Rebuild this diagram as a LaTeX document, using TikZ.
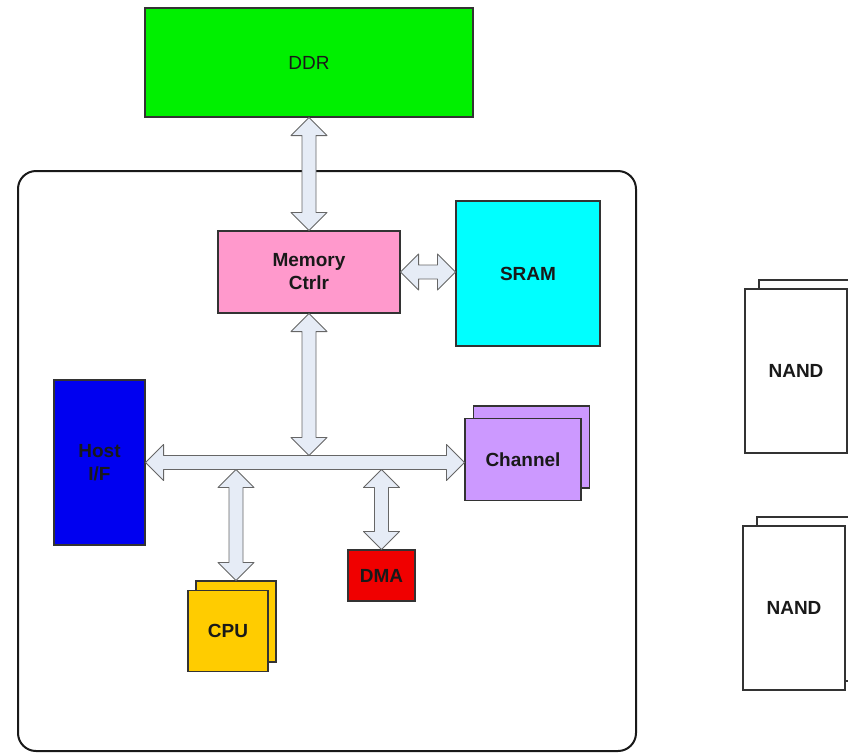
\documentclass[tikz,border=0pt]{standalone}
\usepackage{fontspec}
\setmainfont{Liberation Sans}
\usetikzlibrary{calc}
\definecolor{ddrgreen}{HTML}{00F000}
\definecolor{mcpink}{HTML}{FF99CC}
\definecolor{sramcyan}{HTML}{00FFFF}
\definecolor{hostblue}{HTML}{0000F0}
\definecolor{chanpurple}{HTML}{CC99FF}
\definecolor{cpuyellow}{HTML}{FFCC00}
\definecolor{dmared}{HTML}{F00000}
\definecolor{arrowfill}{HTML}{E6ECF6}
\definecolor{edge}{HTML}{333333}
\tikzset{
  box/.style={draw=edge, line width=1.1pt, inner sep=0pt, align=center,
    text=black!90, font=\fontsize{19}{23}\selectfont\bfseries},
  fat/.style={draw=black!60, line width=0.9pt, fill=arrowfill, line join=round,
    to path={let \p1=(\tikztostart), \p2=(\tikztotarget),
      \p3=($(\p1)!18pt!(\p2)$), \p4=($(\p2)!18pt!(\p1)$) in
      (\p1) -- ($(\p3)!18pt!90:(\p2)$) -- ($(\p3)!7pt!90:(\p2)$)
      -- ($(\p4)!7pt!-90:(\p1)$) -- ($(\p4)!18pt!-90:(\p1)$) -- (\p2)
      -- ($(\p4)!18pt!90:(\p1)$) -- ($(\p4)!7pt!90:(\p1)$)
      -- ($(\p3)!7pt!-90:(\p2)$) -- ($(\p3)!18pt!-90:(\p2)$) -- cycle}}
}
\begin{document}
\begin{tikzpicture}[x=1pt,y=-1pt]
\useasboundingbox (0,0) rectangle (848,753);
\clip (0,0) rectangle (848,753);

% chip outline
\node[draw=black!90, line width=2pt, rounded corners=18pt, minimum width=618pt,
  minimum height=580pt, inner sep=0pt] (chip) at (327,461) {};

% DDR
\node[box, fill=ddrgreen, minimum width=328pt, minimum height=109pt,
  font=\fontsize{19}{23}\selectfont] (ddr) at (309,62.5) {DDR};

% Memory controller
\node[box, fill=mcpink, minimum width=182pt, minimum height=82pt] (mc) at (309,272) {Memory\\Ctrlr};

% SRAM
\node[box, fill=sramcyan, minimum width=144pt, minimum height=145pt] (sram) at (528,273.5) {SRAM};

% Host I/F
\node[box, fill=hostblue, minimum width=91pt, minimum height=165pt] (host) at (99.5,462.5) {Host\\I/F};

% Channel (stacked)
\node[box, fill=chanpurple, minimum width=116pt, minimum height=82pt] (chb) at (531.5,447) {};
\node[box, fill=chanpurple, minimum width=116pt, minimum height=82pt] (chf) at (523,459.5) {Channel};

% CPU (stacked)
\node[box, fill=cpuyellow, minimum width=80pt, minimum height=81pt] (cpub) at (236,621.5) {};
\node[box, fill=cpuyellow, minimum width=80pt, minimum height=81pt] (cpuf) at (228,631) {CPU};

% DMA
\node[box, fill=dmared, minimum width=67pt, minimum height=51pt] (dma) at (381.5,575.5) {DMA};

% NAND stacks
\node[box, fill=white, minimum width=102pt, minimum height=164pt] (nand1b) at (810,362) {};
\node[box, fill=white, minimum width=102pt, minimum height=164pt] (nand1f) at (796,371) {NAND};
\node[box, fill=white, minimum width=102pt, minimum height=164pt] (nand2b) at (808,599) {};
\node[box, fill=white, minimum width=102pt, minimum height=164pt] (nand2f) at (794,608) {NAND};

% bus taps
\path (mc.south |- host.east) ++(0,-7) coordinate (tapmc);
\path (cpub.north |- host.east) ++(0,7) coordinate (tapcpu);
\path (dma.north |- host.east) ++(0,7) coordinate (tapdma);
\coordinate (busR) at (host.east -| chf.west);

% fat arrows
\draw[fat] (ddr.south) to (mc.north);
\draw[fat] (mc.east) to (mc.east -| sram.west);
\draw[fat] (mc.south) to (tapmc);
\draw[fat] (host.east) to (busR);
\draw[fat] (tapcpu) to (cpub.north);
\draw[fat] (tapdma) to (dma.north);
\end{tikzpicture}
\end{document}
